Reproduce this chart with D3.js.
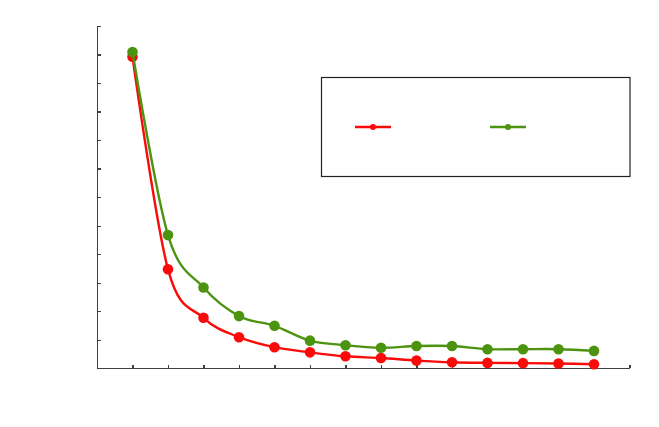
<!DOCTYPE html>
<html lang="en">
<head>
    <meta charset="UTF-8">
    <title>Two series decay chart</title>
    <script src="https://d3js.org/d3.v7.min.js"></script>
    <style>
        body { margin: 0; background: #fff; }
        .axis path, .axis line { stroke: #404040; stroke-width: 1.3; shape-rendering: crispEdges; }
    </style>
</head>
<body>
    <svg id="chart" width="659" height="427"></svg>
    <script>
        // data (no labels are shown in it)
        const categories = [1, 2, 3, 4, 5, 6, 7, 8, 9, 10, 11, 12, 13, 14];
        const redValues = [10.92, 3.47, 1.77, 1.09, 0.74, 0.56, 0.42, 0.36, 0.27, 0.21, 0.19, 0.18, 0.17, 0.14];
        const greenValues = [11.09, 4.67, 2.83, 1.83, 1.49, 0.97, 0.81, 0.72, 0.78, 0.78, 0.67, 0.67, 0.67, 0.61];
        const xTicks = [1, 2, 3, 4, 5, 6, 7, 8, 9, 10, 11, 12, 13, 14, 15];
        const yTicks = [0, 1, 2, 3, 4, 5, 6, 7, 8, 9, 10, 11, 12];

        const colors = { red: "#fb0a0a", green: "#4c9310" };

        const svg = d3.select("#chart");

        const x = d3.scaleLinear().domain([0, 15]).range([97, 629.5]);
        const y = d3.scaleLinear().domain([0, 12]).range([368.3, 26]);

        svg.append("g")
            .attr("class", "axis")
            .attr("transform", `translate(0,${y(0)})`)
            .call(d3.axisBottom(x).tickValues(xTicks).tickSize(-3.5).tickSizeOuter(0).tickFormat(""));

        svg.append("g")
            .attr("class", "axis")
            .attr("transform", `translate(${x(0)},0)`)
            .call(d3.axisLeft(y).tickValues(yTicks).tickSize(-4).tickSizeOuter(0).tickFormat(""));

        // smoothed line like a spreadsheet "smooth line"
        const line = d3.line()
            .x((d, i) => x(categories[i]))
            .y(d => y(d))
            .curve(d3.curveCardinal.tension(0));

        function drawSeries(values, color) {
            svg.append("path")
                .datum(values)
                .attr("fill", "none")
                .attr("stroke", color)
                .attr("stroke-width", 2.4)
                .attr("d", line);

            svg.append("g").selectAll("circle")
                .data(values)
                .enter().append("circle")
                .attr("cx", (d, i) => x(categories[i]))
                .attr("cy", d => y(d))
                .attr("r", 5.3)
                .attr("fill", color);
        }

        drawSeries(redValues, colors.red);
        drawSeries(greenValues, colors.green);

        // legend box (entries have no text)
        const legend = svg.append("g");
        legend.append("rect")
            .attr("x", 321.5).attr("y", 77.5)
            .attr("width", 308.5).attr("height", 99)
            .attr("fill", "#fff")
            .attr("stroke", "#222")
            .attr("stroke-width", 1.2);

        [{ x0: 355, color: colors.red }, { x0: 490, color: colors.green }].forEach(item => {
            legend.append("line")
                .attr("x1", item.x0).attr("x2", item.x0 + 36)
                .attr("y1", 127).attr("y2", 127)
                .attr("stroke", item.color)
                .attr("stroke-width", 2.4);
            legend.append("circle")
                .attr("cx", item.x0 + 18).attr("cy", 127)
                .attr("r", 3)
                .attr("fill", item.color);
        });
    </script>
</body>
</html>
